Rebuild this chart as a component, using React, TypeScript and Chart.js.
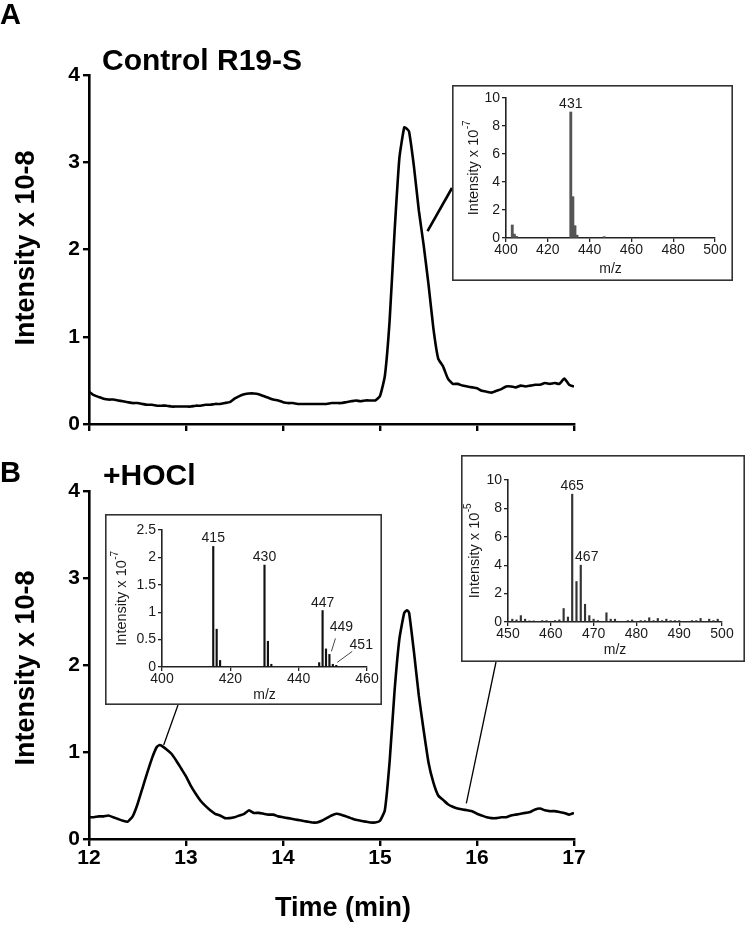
import React, { useEffect, useRef } from 'react';
import { Chart, registerables } from 'chart.js';

Chart.register(...registerables);

const FONT = '"Liberation Sans", Arial, Helvetica, sans-serif';

// ---------- Panel A chromatogram (Control R19-S) ----------
const timeA = [
  12.00, 12.05, 12.10, 12.15, 12.20, 12.25, 12.30, 12.35, 12.40, 12.45,
  12.50, 12.55, 12.60, 12.65, 12.70, 12.75, 12.80, 12.85, 12.90, 12.95,
  13.00, 13.05, 13.10, 13.15, 13.20, 13.25, 13.30, 13.35, 13.40, 13.45,
  13.50, 13.55, 13.60, 13.65, 13.70, 13.75, 13.80, 13.85, 13.90, 13.95,
  14.00, 14.05, 14.10, 14.15, 14.20, 14.25, 14.30, 14.35, 14.40, 14.45,
  14.50, 14.55, 14.60, 14.65, 14.70, 14.75, 14.80, 14.85, 14.90, 14.95,
  15.00, 15.05, 15.10, 15.15, 15.20, 15.25, 15.28, 15.30, 15.35, 15.40,
  15.45, 15.50, 15.55, 15.60, 15.65, 15.70, 15.75, 15.80, 15.85, 15.90,
  15.95, 16.00, 16.05, 16.10, 16.15, 16.20, 16.25, 16.30, 16.35, 16.40,
  16.45, 16.50, 16.55, 16.60, 16.65, 16.70, 16.75, 16.80, 16.85, 16.90,
  16.95, 17.00,
];
const intensityA = [
  0.37, 0.33, 0.31, 0.29, 0.28, 0.28, 0.27, 0.26, 0.25, 0.24,
  0.24, 0.23, 0.22, 0.22, 0.21, 0.21, 0.21, 0.20, 0.20, 0.20,
  0.20, 0.20, 0.21, 0.21, 0.22, 0.22, 0.23, 0.23, 0.24, 0.25,
  0.29, 0.32, 0.34, 0.35, 0.35, 0.34, 0.32, 0.30, 0.28, 0.27,
  0.25, 0.24, 0.24, 0.23, 0.23, 0.23, 0.23, 0.23, 0.23, 0.23,
  0.24, 0.24, 0.24, 0.25, 0.26, 0.27, 0.26, 0.27, 0.27, 0.27,
  0.32, 0.55, 1.20, 2.20, 3.05, 3.40, 3.38, 3.35, 2.95, 2.45,
  2.05, 1.60, 1.10, 0.75, 0.66, 0.52, 0.46, 0.46, 0.44, 0.43,
  0.42, 0.41, 0.38, 0.37, 0.36, 0.38, 0.40, 0.43, 0.43, 0.42,
  0.44, 0.43, 0.44, 0.45, 0.45, 0.47, 0.46, 0.47, 0.46, 0.52,
  0.45, 0.43,
];

// ---------- Panel B chromatogram (+HOCl) ----------
const timeB = [
  12.00, 12.05, 12.10, 12.15, 12.20, 12.25, 12.30, 12.35, 12.40, 12.45,
  12.50, 12.55, 12.60, 12.65, 12.70, 12.73, 12.75, 12.80, 12.85, 12.90,
  12.95, 13.00, 13.05, 13.10, 13.15, 13.20, 13.25, 13.30, 13.35, 13.40,
  13.45, 13.50, 13.55, 13.60, 13.65, 13.70, 13.75, 13.80, 13.85, 13.90,
  13.95, 14.00, 14.05, 14.10, 14.15, 14.20, 14.25, 14.30, 14.35, 14.40,
  14.45, 14.50, 14.55, 14.60, 14.65, 14.70, 14.75, 14.80, 14.85, 14.90,
  14.95, 15.00, 15.05, 15.10, 15.15, 15.20, 15.25, 15.28, 15.30, 15.35,
  15.40, 15.45, 15.50, 15.55, 15.60, 15.65, 15.70, 15.75, 15.80, 15.85,
  15.90, 15.95, 16.00, 16.05, 16.10, 16.15, 16.20, 16.25, 16.30, 16.35,
  16.40, 16.45, 16.50, 16.55, 16.60, 16.65, 16.70, 16.75, 16.80, 16.85,
  16.90, 16.95, 17.00,
];
const intensityB = [
  0.25, 0.25, 0.26, 0.26, 0.27, 0.25, 0.23, 0.21, 0.20, 0.26,
  0.40, 0.58, 0.76, 0.93, 1.06, 1.08, 1.07, 1.03, 0.98, 0.90,
  0.81, 0.72, 0.61, 0.52, 0.44, 0.38, 0.33, 0.29, 0.27, 0.24,
  0.24, 0.25, 0.27, 0.29, 0.33, 0.30, 0.30, 0.29, 0.28, 0.28,
  0.26, 0.25, 0.24, 0.23, 0.22, 0.21, 0.20, 0.19, 0.19, 0.21,
  0.24, 0.27, 0.29, 0.28, 0.26, 0.24, 0.22, 0.21, 0.20, 0.19,
  0.19, 0.21, 0.33, 0.90, 1.70, 2.30, 2.60, 2.63, 2.60, 2.15,
  1.65, 1.25, 0.88, 0.65, 0.50, 0.45, 0.40, 0.37, 0.35, 0.34,
  0.33, 0.32, 0.29, 0.27, 0.25, 0.24, 0.24, 0.25, 0.25, 0.27,
  0.28, 0.29, 0.30, 0.31, 0.34, 0.35, 0.33, 0.32, 0.32, 0.31,
  0.30, 0.28, 0.30,
];

const timeTicks = [12, 13, 14, 15, 16, 17];
const intensityTicks = [0, 1, 2, 3, 4];

// ---------- Inset A spectrum (m/z vs intensity x 10^-7) ----------
const mzA = [403, 404, 405, 431, 432, 433, 434, 447];
const specA = [0.93, 0.28, 0.12, 9.0, 2.95, 0.88, 0.2, 0.1];
const peakLabelsA = [431];

// ---------- Inset B-left spectrum (intensity x 10^-7) ----------
const mzBL = [415, 416, 417, 430, 431, 432, 446, 447, 448, 449, 450, 451];
const specBL = [2.2, 0.69, 0.12, 1.86, 0.47, 0.05, 0.08, 1.03, 0.33, 0.23, 0.05, 0.03];
const peakLabelsBL = [415, 430, 447, 449, 451];

// ---------- Inset B-right spectrum (intensity x 10^-5) ----------
const mzBR = [
  451, 452, 453, 454, 455, 456, 457, 458, 459, 460,
  461, 462, 463, 464, 465, 466, 467, 468, 469, 470,
  471, 472, 473, 474, 475, 476, 477, 478, 479, 480,
  481, 482, 483, 484, 485, 486, 487, 488, 489, 490,
  491, 492, 493, 494, 495, 496, 497, 498, 499, 500,
];
const specBR = [
  0.2, 0.15, 0.45, 0.2, 0.08, 0.08, 0.05, 0.1, 0.1, 0.05,
  0.1, 0.15, 0.95, 0.35, 9.0, 2.85, 4.0, 1.25, 0.45, 0.2,
  0.1, 0.05, 0.65, 0.2, 0.2, 0.05, 0.05, 0.1, 0.15, 0.05,
  0.1, 0.1, 0.3, 0.1, 0.25, 0.1, 0.2, 0.1, 0.1, 0.1,
  0.05, 0.05, 0.1, 0.1, 0.25, 0.05, 0.2, 0.1, 0.2, 0.05,
];
const peakLabelsBR = [465, 467];

const INSET_FONT_SIZE = 14;
const INSET_TITLE_SIZE = 14.5;

// ---------- plugins ----------
const mainDecor = {
  id: 'mainDecor',
  afterDatasetsDraw(chart: any, _a: any, o: any) {
    const ctx = chart.ctx;
    const xs = chart.scales.x;
    const ys = chart.scales.y;
    ctx.save();
    (o.lines || []).forEach((l: any) => {
      ctx.beginPath();
      ctx.moveTo(xs.getPixelForValue(l.from[0]), ys.getPixelForValue(l.from[1]));
      ctx.lineTo(l.to[0], l.to[1]);
      ctx.lineWidth = l.width;
      ctx.strokeStyle = '#000';
      ctx.lineCap = 'butt';
      ctx.stroke();
    });
    (o.texts || []).forEach((t: any) => {
      ctx.font = t.font;
      ctx.fillStyle = '#000';
      ctx.textAlign = t.align || 'left';
      ctx.textBaseline = t.baseline || 'alphabetic';
      if (t.rotate) {
        ctx.save();
        ctx.translate(t.x, t.y);
        ctx.rotate(-Math.PI / 2);
        ctx.fillText(t.text, 0, 0);
        ctx.restore();
      } else {
        ctx.fillText(t.text, t.x, t.y);
      }
    });
    ctx.restore();
  },
};

const insetDecor = {
  id: 'insetDecor',
  beforeDraw(chart: any) {
    const ctx = chart.ctx;
    ctx.save();
    ctx.fillStyle = '#fff';
    ctx.fillRect(0, 0, chart.width, chart.height);
    ctx.restore();
  },
  afterDraw(chart: any, _a: any, o: any) {
    const ctx = chart.ctx;
    const xs = chart.scales.x;
    const ys = chart.scales.y;
    const ds = chart.data.datasets[0].data;
    ctx.save();
    // frame
    ctx.strokeStyle = '#333';
    ctx.lineWidth = 1.6;
    ctx.strokeRect(0.8, 0.8, chart.width - 1.6, chart.height - 1.6);
    // y title with superscript
    ctx.fillStyle = '#1a1a1a';
    ctx.save();
    ctx.translate(o.yTitleX, (chart.chartArea.top + chart.chartArea.bottom) / 2);
    ctx.rotate(-Math.PI / 2);
    ctx.font = `${INSET_TITLE_SIZE}px ${FONT}`;
    const main = 'Intensity x 10';
    const wMain = ctx.measureText(main).width;
    ctx.font = `10px ${FONT}`;
    const wSup = ctx.measureText(o.sup).width;
    const start = -(wMain + wSup) / 2;
    ctx.textBaseline = 'middle';
    ctx.textAlign = 'left';
    ctx.font = `${INSET_TITLE_SIZE}px ${FONT}`;
    ctx.fillText(main, start, 0);
    ctx.font = `10px ${FONT}`;
    ctx.fillText(o.sup, start + wMain + 0.5, -7);
    ctx.restore();
    // x title
    ctx.font = `${INSET_FONT_SIZE}px ${FONT}`;
    ctx.textAlign = 'center';
    ctx.textBaseline = 'middle';
    ctx.fillText('m/z', (chart.chartArea.left + chart.chartArea.right) / 2, o.xTitleY);
    // peak labels
    (o.labels || []).forEach((mz: number) => {
      const pt = ds.find((d: any) => d.x === mz);
      if (!pt) return;
      const px = xs.getPixelForValue(pt.x);
      const py = ys.getPixelForValue(pt.y);
      const off = (o.offsets && o.offsets[mz]) || { dx: 0, dy: -4 };
      ctx.font = `${INSET_FONT_SIZE}px ${FONT}`;
      ctx.textAlign = 'center';
      ctx.textBaseline = off.leader ? 'middle' : 'alphabetic';
      ctx.fillStyle = '#1a1a1a';
      ctx.fillText(String(mz), px + off.dx, py + off.dy);
      if (off.leader) {
        ctx.beginPath();
        ctx.moveTo(px + off.leader[0], py + off.leader[1]);
        ctx.lineTo(px + off.leader[2], py + off.leader[3]);
        ctx.strokeStyle = '#333';
        ctx.lineWidth = 0.9;
        ctx.stroke();
      }
    });
    ctx.restore();
  },
};

// ---------- builders ----------
type MainCfg = {
  time: number[];
  values: number[];
  width: number;
  height: number;
  area: { left: number; top: number; right: number; bottom: number };
  xLabels: boolean;
  decor: any;
};

function buildMain(canvas: HTMLCanvasElement, c: MainCfg) {
  const tickFont = { family: FONT, size: 21, weight: 'bold' as const };
  return new Chart(canvas, {
    type: 'line',
    data: {
      datasets: [
        {
          data: c.time.map((t, i) => ({ x: t, y: c.values[i] })),
          borderColor: '#000',
          borderWidth: 2.6,
          pointRadius: 0,
          tension: 0.15,
          fill: false,
        },
      ],
    },
    options: {
      responsive: false,
      animation: false,
      events: [],
      layout: { padding: { top: c.area.top, right: c.width - c.area.right, left: 0, bottom: 0 } },
      plugins: { legend: { display: false }, tooltip: { enabled: false }, mainDecor: c.decor } as any,
      scales: {
        x: {
          type: 'linear',
          min: 12,
          max: 17,
          afterBuildTicks: (s: any) => {
            s.ticks = timeTicks.map((v) => ({ value: v }));
          },
          ticks: {
            font: tickFont,
            color: c.xLabels ? '#000' : 'rgba(0,0,0,0)',
            padding: 0,
            maxRotation: 0,
            autoSkip: false,
          },
          grid: { drawOnChartArea: false, drawTicks: true, tickLength: 7, color: '#000', lineWidth: 2.4 },
          border: { display: true, color: '#000', width: 2.6 },
          afterFit: (s: any) => {
            s.height = c.height - c.area.bottom;
          },
        },
        y: {
          min: 0,
          max: 4,
          afterBuildTicks: (s: any) => {
            s.ticks = intensityTicks.map((v) => ({ value: v }));
          },
          ticks: { font: tickFont, color: '#000', padding: 3 },
          grid: { drawOnChartArea: false, drawTicks: true, tickLength: 6, color: '#000', lineWidth: 2.4 },
          border: { display: true, color: '#000', width: 2.6 },
          afterFit: (s: any) => {
            s.width = c.area.left;
          },
        },
      },
    },
    plugins: [mainDecor],
  } as any);
}

type InsetCfg = {
  mz: number[];
  values: number[];
  width: number;
  height: number;
  area: { left: number; top: number; right: number; bottom: number };
  xMin: number;
  xMax: number;
  xStep: number;
  yMax: number;
  yStep: number;
  barColor: string;
  barWidth: number;
  decor: any;
};

function buildInset(canvas: HTMLCanvasElement, c: InsetCfg) {
  const f = { family: FONT, size: INSET_FONT_SIZE };
  return new Chart(canvas, {
    type: 'bar',
    data: {
      datasets: [
        {
          data: c.mz.map((m, i) => ({ x: m, y: c.values[i] })),
          backgroundColor: c.barColor,
          borderWidth: 0,
          barThickness: c.barWidth,
        },
      ],
    },
    options: {
      responsive: false,
      animation: false,
      events: [],
      layout: { padding: { top: c.area.top, right: c.width - c.area.right, left: 0, bottom: 0 } },
      plugins: { legend: { display: false }, tooltip: { enabled: false }, insetDecor: c.decor } as any,
      scales: {
        x: {
          type: 'linear',
          min: c.xMin,
          max: c.xMax,
          offset: false,
          ticks: {
            stepSize: c.xStep,
            font: f,
            color: '#1a1a1a',
            padding: 0,
            maxRotation: 0,
            autoSkip: false,
            callback: (v: any) => String(v),
          },
          grid: { offset: false, drawOnChartArea: false, drawTicks: true, tickLength: 4, color: '#222', lineWidth: 1.3 },
          border: { display: true, color: '#222', width: 1.6 },
          afterFit: (s: any) => {
            s.height = c.height - c.area.bottom;
          },
        },
        y: {
          min: 0,
          max: c.yMax,
          ticks: { stepSize: c.yStep, font: f, color: '#1a1a1a', padding: 2, callback: (v: any) => String(v) },
          grid: { drawOnChartArea: false, drawTicks: true, tickLength: 4, color: '#222', lineWidth: 1.3 },
          border: { display: true, color: '#222', width: 1.6 },
          afterFit: (s: any) => {
            s.width = c.area.left;
          },
        },
      },
    },
    plugins: [insetDecor],
  } as any);
}

// ---------- layout ----------
const A_BOX = { left: 0, top: 0, width: 745, height: 455 };
const B_BOX = { left: 0, top: 455, width: 745, height: 479 };
const IA_BOX = { left: 452, top: 85, width: 281, height: 196 };
const IBL_BOX = { left: 105, top: 514, width: 277, height: 191 };
const IBR_BOX = { left: 461, top: 455, width: 284, height: 207 };

export default function App() {
  const aRef = useRef<HTMLCanvasElement>(null);
  const bRef = useRef<HTMLCanvasElement>(null);
  const iaRef = useRef<HTMLCanvasElement>(null);
  const iblRef = useRef<HTMLCanvasElement>(null);
  const ibrRef = useRef<HTMLCanvasElement>(null);

  useEffect(() => {
    const charts: Chart[] = [];
    const titleFont = `bold 27px ${FONT}`;
    charts.push(
      buildMain(aRef.current!, {
        time: timeA,
        values: intensityA,
        width: A_BOX.width,
        height: A_BOX.height,
        area: { left: 89, top: 75, right: 574, bottom: 424 },
        xLabels: false,
        decor: {
          lines: [{ from: [15.49, 2.21], to: [IA_BOX.left, 188], width: 2.6 }],
          texts: [
            { text: 'A', x: 0, y: 24, font: `bold 29px ${FONT}` },
            { text: 'Control R19-S', x: 102, y: 70, font: `bold 30px ${FONT}` },
            { text: 'Intensity x 10-8', x: 27, y: 248, font: titleFont, rotate: true, align: 'center', baseline: 'middle' },
          ],
        },
      })
    );
    const bo = B_BOX.top;
    charts.push(
      buildMain(bRef.current!, {
        time: timeB,
        values: intensityB,
        width: B_BOX.width,
        height: B_BOX.height,
        area: { left: 89, top: 491 - bo, right: 574, bottom: 839 - bo },
        xLabels: true,
        decor: {
          lines: [
            { from: [12.77, 1.08], to: [178, IBL_BOX.top + IBL_BOX.height - bo], width: 1.3 },
            { from: [15.89, 0.41], to: [496, IBR_BOX.top + IBR_BOX.height - bo], width: 1.3 },
          ],
          texts: [
            { text: 'B', x: 0, y: 482 - bo, font: `bold 29px ${FONT}` },
            { text: '+HOCl', x: 103, y: 485 - bo, font: `bold 30px ${FONT}` },
            { text: 'Intensity x 10-8', x: 27, y: 668 - bo, font: titleFont, rotate: true, align: 'center', baseline: 'middle' },
            { text: 'Time (min)', x: 343, y: 916 - bo, font: titleFont, align: 'center' },
          ],
        },
      })
    );
    charts.push(
      buildInset(iaRef.current!, {
        mz: mzA,
        values: specA,
        width: IA_BOX.width,
        height: IA_BOX.height,
        area: { left: 54, top: 13, right: 263, bottom: 153 },
        xMin: 400,
        xMax: 500,
        xStep: 20,
        yMax: 10,
        yStep: 2,
        barColor: '#555',
        barWidth: 2.2,
        decor: { sup: '-7', yTitleX: 22, xTitleY: 184, labels: peakLabelsA },
      })
    );
    charts.push(
      buildInset(iblRef.current!, {
        mz: mzBL,
        values: specBL,
        width: IBL_BOX.width,
        height: IBL_BOX.height,
        area: { left: 57, top: 16, right: 262, bottom: 153 },
        xMin: 400,
        xMax: 460,
        xStep: 20,
        yMax: 2.5,
        yStep: 0.5,
        barColor: '#111',
        barWidth: 1.5,
        decor: {
          sup: '-7',
          yTitleX: 17,
          xTitleY: 181,
          labels: peakLabelsBL,
          offsets: {
            449: { dx: 12, dy: -27, leader: [2, -3, 6, -16] },
            451: { dx: 25, dy: -20, leader: [1, -3, 16, -14] },
          },
        },
      })
    );
    charts.push(
      buildInset(ibrRef.current!, {
        mz: mzBR,
        values: specBR,
        width: IBR_BOX.width,
        height: IBR_BOX.height,
        area: { left: 47, top: 25, right: 261, bottom: 167 },
        xMin: 450,
        xMax: 500,
        xStep: 10,
        yMax: 10,
        yStep: 2,
        barColor: '#333',
        barWidth: 1.5,
        decor: {
          sup: '-5',
          yTitleX: 14,
          xTitleY: 195,
          labels: peakLabelsBR,
          offsets: { 467: { dx: 6, dy: -4 } },
        },
      })
    );
    return () => charts.forEach((c) => c.destroy());
  }, []);

  const pos = (b: { left: number; top: number; width: number; height: number }): React.CSSProperties => ({
    position: 'absolute',
    left: b.left,
    top: b.top,
    width: b.width,
    height: b.height,
    display: 'block',
  });

  return (
    <div style={{ position: 'absolute', left: 0, top: 0, width: 745, height: 934, background: '#fff', overflow: 'hidden' }}>
      <canvas ref={aRef} width={A_BOX.width} height={A_BOX.height} style={pos(A_BOX)} />
      <canvas ref={bRef} width={B_BOX.width} height={B_BOX.height} style={pos(B_BOX)} />
      <canvas ref={iaRef} width={IA_BOX.width} height={IA_BOX.height} style={pos(IA_BOX)} />
      <canvas ref={iblRef} width={IBL_BOX.width} height={IBL_BOX.height} style={pos(IBL_BOX)} />
      <canvas ref={ibrRef} width={IBR_BOX.width} height={IBR_BOX.height} style={pos(IBR_BOX)} />
    </div>
  );
}
